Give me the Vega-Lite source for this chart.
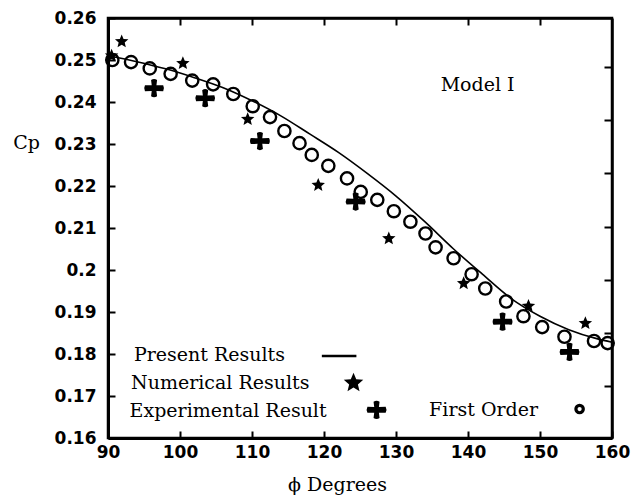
{
  "$schema": "https://vega.github.io/schema/vega-lite/v6.json",
  "width": 504,
  "height": 420,
  "autosize": {"type": "none"},
  "padding": {"left": 108, "top": 18, "right": 23, "bottom": 59},
  "background": "white",
  "config": {
    "view": {"stroke": "black", "strokeWidth": 2.5},
    "axis": {
      "grid": false,
      "domainColor": "black",
      "tickColor": "black",
      "labelColor": "black",
      "titleColor": "black",
      "labelFont": "DejaVu Sans",
      "labelFontWeight": "bold",
      "labelFontSize": 17,
      "labelFlush": false,
      "labelOverlap": false,
      "titleFont": "DejaVu Serif",
      "titleFontWeight": "normal",
      "titleFontSize": 19
    }
  },
  "datasets": {
    "present": [
      {"phi": 90, "cp": 0.2510}, {"phi": 94, "cp": 0.2496}, {"phi": 98, "cp": 0.2479},
      {"phi": 102, "cp": 0.2458}, {"phi": 106, "cp": 0.2434}, {"phi": 110, "cp": 0.2403},
      {"phi": 114, "cp": 0.2367}, {"phi": 118, "cp": 0.2324}, {"phi": 122, "cp": 0.2280},
      {"phi": 126, "cp": 0.2230}, {"phi": 130, "cp": 0.2176}, {"phi": 134, "cp": 0.2115},
      {"phi": 138, "cp": 0.2050}, {"phi": 142, "cp": 0.1990}, {"phi": 146, "cp": 0.1932},
      {"phi": 150, "cp": 0.1890}, {"phi": 154, "cp": 0.1858}, {"phi": 158, "cp": 0.1836},
      {"phi": 160, "cp": 0.1828}
    ],
    "first": [
      {"phi": 90.6, "cp": 0.2500}, {"phi": 93.2, "cp": 0.2495}, {"phi": 95.8, "cp": 0.2480},
      {"phi": 98.7, "cp": 0.2467}, {"phi": 101.7, "cp": 0.2451}, {"phi": 104.6, "cp": 0.2442},
      {"phi": 107.4, "cp": 0.2419}, {"phi": 110.1, "cp": 0.2390}, {"phi": 112.5, "cp": 0.2364},
      {"phi": 114.5, "cp": 0.2331}, {"phi": 116.6, "cp": 0.2302}, {"phi": 118.3, "cp": 0.2274},
      {"phi": 120.6, "cp": 0.2248}, {"phi": 123.2, "cp": 0.2218}, {"phi": 125.1, "cp": 0.2186},
      {"phi": 127.4, "cp": 0.2167}, {"phi": 129.7, "cp": 0.2140}, {"phi": 132.0, "cp": 0.2115},
      {"phi": 134.1, "cp": 0.2087}, {"phi": 135.5, "cp": 0.2054}, {"phi": 138.0, "cp": 0.2028},
      {"phi": 140.5, "cp": 0.1990}, {"phi": 142.4, "cp": 0.1956}, {"phi": 145.3, "cp": 0.1925},
      {"phi": 147.7, "cp": 0.1890}, {"phi": 150.3, "cp": 0.1864}, {"phi": 153.4, "cp": 0.1841},
      {"phi": 157.5, "cp": 0.1831}, {"phi": 159.4, "cp": 0.1826}
    ],
    "numerical": [
      {"phi": 90.5, "cp": 0.2510}, {"phi": 91.9, "cp": 0.2544}, {"phi": 100.4, "cp": 0.2492},
      {"phi": 109.4, "cp": 0.2359}, {"phi": 119.2, "cp": 0.2202}, {"phi": 129.0, "cp": 0.2075},
      {"phi": 139.4, "cp": 0.1968}, {"phi": 148.4, "cp": 0.1914}, {"phi": 156.3, "cp": 0.1873}
    ],
    "experimental": [
      {"phi": 96.4, "cp": 0.2433}, {"phi": 103.5, "cp": 0.2409}, {"phi": 111.1, "cp": 0.2307},
      {"phi": 124.4, "cp": 0.2163}, {"phi": 144.8, "cp": 0.1877}, {"phi": 154.1, "cp": 0.1805}
    ],
    "labels": [
      {"label": "Present Results", "phi": 93.6, "cp": 0.1798},
      {"label": "Numerical Results", "phi": 93.2, "cp": 0.1731},
      {"label": "Experimental Result", "phi": 93.0, "cp": 0.1664},
      {"label": "First Order", "phi": 134.6, "cp": 0.1667},
      {"label": "Model I", "phi": 136.2, "cp": 0.2440}
    ],
    "keyLine": [{"phi": 119.7, "phi2": 124.5, "cp": 0.1795}],
    "keyStar": [{"phi": 124.1, "cp": 0.1731}],
    "keyCross": [{"phi": 127.3, "cp": 0.1667}],
    "keyCircle": [{"phi": 155.5, "cp": 0.1669}]
  },
  "resolve": {"axis": {"x": "independent", "y": "independent"}},
  "layer": [
    {
      "data": {"name": "present"},
      "mark": {"type": "line", "color": "black", "strokeWidth": 1.6, "interpolate": "monotone"},
      "encoding": {
        "x": {
          "field": "phi", "type": "quantitative",
          "scale": {"domain": [90, 160], "nice": false, "zero": false},
          "axis": {
            "orient": "bottom", "values": [90, 100, 110, 120, 130, 140, 150, 160],
            "tickSize": -7, "tickWidth": 2, "domainWidth": 3, "labelPadding": 13,
            "title": "ϕ Degrees", "titleX": 229, "titleY": 46,
            "titleAlign": "center", "titleBaseline": "middle"
          }
        },
        "y": {
          "field": "cp", "type": "quantitative",
          "scale": {"domain": [0.16, 0.26], "nice": false, "zero": false},
          "axis": {
            "orient": "left",
            "values": [0.16, 0.17, 0.18, 0.19, 0.2, 0.21, 0.22, 0.23, 0.24, 0.25, 0.26],
            "format": ".2~f",
            "tickSize": -7, "tickWidth": 2, "domainWidth": 3, "labelPadding": 19,
            "title": "Cp", "titleAngle": 0, "titleX": -82, "titleY": 124,
            "titleAlign": "center", "titleBaseline": "middle"
          }
        }
      }
    },
    {
      "data": {"name": "first"},
      "mark": {"type": "point", "shape": "circle", "filled": false, "color": "black", "strokeWidth": 2.4, "size": 150, "opacity": 1},
      "encoding": {
        "x": {
          "field": "phi", "type": "quantitative",
          "scale": {"domain": [90, 160], "nice": false, "zero": false},
          "axis": {"orient": "top", "values": [100, 110, 120, 130, 140, 150], "labels": false, "tickSize": -7, "tickWidth": 2, "domainWidth": 2.5, "title": null}
        },
        "y": {
          "field": "cp", "type": "quantitative",
          "scale": {"domain": [0.16, 0.26], "nice": false, "zero": false},
          "axis": {"orient": "right", "values": [0.1724, 0.185, 0.1976, 0.2102, 0.2231, 0.2357, 0.2483], "labels": false, "tickSize": -8, "tickWidth": 2, "domainWidth": 2.5, "title": null}
        }
      }
    },
    {
      "data": {"name": "numerical"},
      "mark": {"type": "point", "shape": "M0,-1L0.265,-0.364L0.951,-0.309L0.428,0.139L0.588,0.809L0,0.45L-0.588,0.809L-0.428,0.139L-0.951,-0.309L-0.265,-0.364Z", "filled": true, "color": "black", "size": 200, "opacity": 1},
      "encoding": {
        "x": {"field": "phi", "type": "quantitative", "axis": null},
        "y": {"field": "cp", "type": "quantitative", "axis": null}
      }
    },
    {
      "data": {"name": "experimental"},
      "mark": {"type": "point", "shape": "M-0.28,-0.75Q0,-0.95 0.28,-0.75L0.22,-0.26L0.85,-0.28Q1,0 0.85,0.28L0.22,0.26L0.28,0.75Q0,0.95 -0.28,0.75L-0.22,0.26L-0.85,0.28Q-1,0 -0.85,-0.28L-0.22,-0.26Z", "filled": true, "color": "black", "size": 460, "opacity": 1},
      "encoding": {
        "x": {"field": "phi", "type": "quantitative", "axis": null},
        "y": {"field": "cp", "type": "quantitative", "axis": null}
      }
    },
    {
      "data": {"name": "labels"},
      "mark": {"type": "text", "align": "left", "baseline": "middle", "font": "DejaVu Serif", "fontSize": 19, "color": "black"},
      "encoding": {
        "x": {"field": "phi", "type": "quantitative", "axis": null},
        "y": {"field": "cp", "type": "quantitative", "axis": null},
        "text": {"field": "label"}
      }
    },
    {
      "data": {"name": "keyLine"},
      "mark": {"type": "rule", "color": "black", "strokeWidth": 2.5},
      "encoding": {
        "x": {"field": "phi", "type": "quantitative", "axis": null},
        "x2": {"field": "phi2"},
        "y": {"field": "cp", "type": "quantitative", "axis": null}
      }
    },
    {
      "data": {"name": "keyStar"},
      "mark": {"type": "point", "shape": "M0,-1L0.265,-0.364L0.951,-0.309L0.428,0.139L0.588,0.809L0,0.45L-0.588,0.809L-0.428,0.139L-0.951,-0.309L-0.265,-0.364Z", "filled": true, "color": "black", "size": 420, "opacity": 1},
      "encoding": {
        "x": {"field": "phi", "type": "quantitative", "axis": null},
        "y": {"field": "cp", "type": "quantitative", "axis": null}
      }
    },
    {
      "data": {"name": "keyCross"},
      "mark": {"type": "point", "shape": "M-0.28,-0.75Q0,-0.95 0.28,-0.75L0.22,-0.26L0.85,-0.28Q1,0 0.85,0.28L0.22,0.26L0.28,0.75Q0,0.95 -0.28,0.75L-0.22,0.26L-0.85,0.28Q-1,0 -0.85,-0.28L-0.22,-0.26Z", "filled": true, "color": "black", "size": 460, "opacity": 1},
      "encoding": {
        "x": {"field": "phi", "type": "quantitative", "axis": null},
        "y": {"field": "cp", "type": "quantitative", "axis": null}
      }
    },
    {
      "data": {"name": "keyCircle"},
      "mark": {"type": "point", "shape": "circle", "filled": false, "color": "black", "strokeWidth": 3.2, "size": 55, "opacity": 1},
      "encoding": {
        "x": {"field": "phi", "type": "quantitative", "axis": null},
        "y": {"field": "cp", "type": "quantitative", "axis": null}
      }
    }
  ]
}
